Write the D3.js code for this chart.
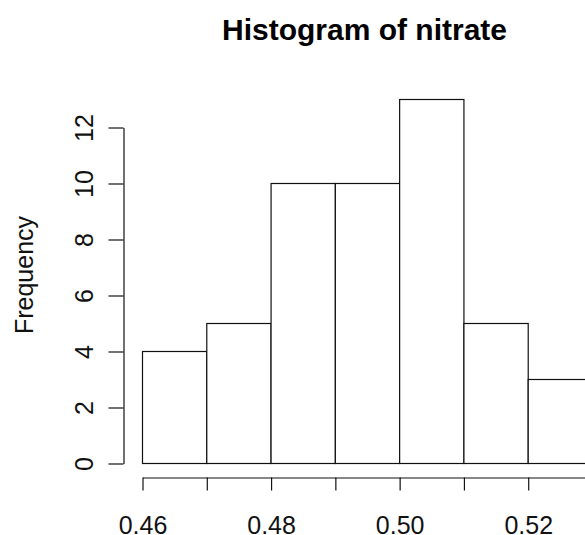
<!DOCTYPE html>
<html>
<head>
<meta charset="utf-8">
<script src="https://cdn.jsdelivr.net/npm/d3@7"></script>
<style>
  body { margin: 0; background: #fff; }
  svg { display: block; font-family: "Liberation Sans", Arial, sans-serif; }
</style>
</head>
<body>
<svg width="585" height="535"></svg>
<script>
// histogram bins (nitrate) and counts
var binStarts = [0.46, 0.47, 0.48, 0.49, 0.50, 0.51, 0.52];
var binEnds   = [0.47, 0.48, 0.49, 0.50, 0.51, 0.52, 0.53];
var counts    = [4, 5, 10, 10, 13, 5, 3];
var xTicks = [0.46, 0.47, 0.48, 0.49, 0.50, 0.51, 0.52, 0.53];
var xLabels = ["0.46", "", "0.48", "", "0.50", "", "0.52", ""];
var yTicks = [0, 2, 4, 6, 8, 10, 12];

var bins = binStarts.map(function(s, i) { return {x0: s, x1: binEnds[i], n: counts[i]}; });

var svg = d3.select("svg");
var ink = "#111";

var x = d3.scaleLinear()
    .domain([0.46, 0.53])
    .range([142, 592]);

var y = d3.scaleLinear()
    .domain([0, 12])
    .range([463, 127]);

var g = svg.append("g").attr("transform", "translate(0.5,0.5)");

// bars
g.selectAll("rect.bar")
    .data(bins)
  .enter().append("rect")
    .attr("class", "bar")
    .attr("x", function(d) { return x(d.x0); })
    .attr("y", function(d) { return y(d.n); })
    .attr("width", function(d) { return x(d.x1) - x(d.x0); })
    .attr("height", function(d) { return y(0) - y(d.n); })
    .attr("fill", "#fff")
    .attr("stroke", ink)
    .attr("stroke-width", 1.2);

// x axis, sits below the bars like R does
var xAxis = d3.axisBottom(x)
    .tickValues(xTicks)
    .tickSize(13)
    .tickSizeOuter(0)
    .tickFormat(function(d, i) { return xLabels[i]; });

var gX = g.append("g")
    .attr("transform", "translate(0,477)")
    .call(xAxis);

gX.selectAll("text")
    .attr("y", 56)
    .attr("dy", 0)
    .attr("fill", ink)
    .style("font-size", "25px");

// y axis with rotated labels
var yAxis = d3.axisLeft(y)
    .tickValues(yTicks)
    .tickSize(15)
    .tickSizeOuter(0)
    .tickFormat(d3.format("d"));

var gY = g.append("g")
    .attr("transform", "translate(123,0)")
    .call(yAxis);

gY.selectAll("text")
    .attr("x", 0)
    .attr("y", -31)
    .attr("dy", 0)
    .attr("transform", "rotate(-90)")
    .attr("text-anchor", "middle")
    .attr("fill", ink)
    .style("font-size", "25px");

[gX, gY].forEach(function(a) {
    a.select(".domain").attr("stroke", ink).attr("stroke-width", 1.2);
    a.selectAll(".tick line").attr("stroke", ink).attr("stroke-width", 1.2);
});

// title
svg.append("text")
    .attr("x", 364.5)
    .attr("y", 40)
    .attr("text-anchor", "middle")
    .style("font-size", "30px")
    .style("font-weight", "bold")
    .text("Histogram of nitrate");

// y label
svg.append("text")
    .attr("transform", "translate(33,275) rotate(-90)")
    .attr("text-anchor", "middle")
    .attr("fill", ink)
    .style("font-size", "25px")
    .text("Frequency");
</script>
</body>
</html>
